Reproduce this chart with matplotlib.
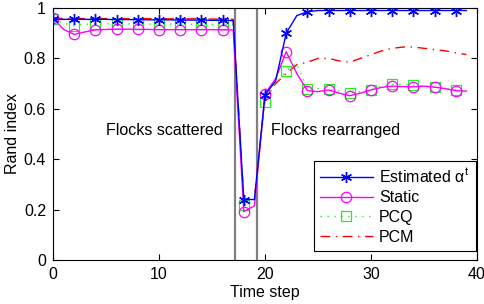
import numpy as np
import matplotlib
matplotlib.use('Agg')
import matplotlib.pyplot as plt

plt.rcParams['font.family'] = ['Liberation Sans', 'DejaVu Sans']
plt.rcParams['mathtext.fontset'] = 'custom'
plt.rcParams['mathtext.rm'] = 'Liberation Sans'
plt.rcParams['mathtext.it'] = 'Liberation Sans'

# time steps 0..39
steps = list(range(40))

estimated = [0.955, 0.955, 0.955, 0.955, 0.955, 0.955, 0.954, 0.954, 0.954, 0.953,
             0.953, 0.953, 0.952, 0.952, 0.952, 0.951, 0.951, 0.950, 0.240, 0.240,
             0.655, 0.710, 0.900, 0.970, 0.985, 0.990, 0.990, 0.990, 0.990, 0.990,
             0.990, 0.990, 0.990, 0.990, 0.990, 0.990, 0.990, 0.990, 0.990, 0.990]

static = [0.960, 0.915, 0.895, 0.905, 0.913, 0.915, 0.916, 0.916, 0.915, 0.915,
          0.914, 0.914, 0.914, 0.914, 0.914, 0.914, 0.913, 0.913, 0.192, 0.215,
          0.660, 0.720, 0.826, 0.740, 0.672, 0.668, 0.675, 0.662, 0.652, 0.662,
          0.675, 0.685, 0.690, 0.688, 0.687, 0.690, 0.686, 0.680, 0.672, 0.670]

pcq = [0.955, 0.940, 0.930, 0.935, 0.937, 0.937, 0.937, 0.937, 0.936, 0.936,
       0.936, 0.936, 0.936, 0.935, 0.935, 0.935, 0.935, 0.935, 0.218, 0.230,
       0.627, 0.700, 0.750, 0.780, 0.677, 0.680, 0.677, 0.670, 0.664, 0.668,
       0.675, 0.690, 0.698, 0.696, 0.694, 0.690, 0.685, 0.680, 0.675, 0.672]

pcm = [0.960, 0.958, 0.958, 0.958, 0.958, 0.958, 0.958, 0.958, 0.958, 0.958,
       0.958, 0.957, 0.957, 0.957, 0.957, 0.956, 0.956, 0.955, 0.240, 0.240,
       0.650, 0.700, 0.740, 0.775, 0.785, 0.800, 0.800, 0.790, 0.785, 0.800,
       0.815, 0.830, 0.840, 0.845, 0.845, 0.840, 0.835, 0.830, 0.822, 0.815]

change_points = [17.2, 19.2]
yticks = [0, 0.2, 0.4, 0.6, 0.8, 1]
ytick_labels = ['0', '0.2', '0.4', '0.6', '0.8', '1']
xticks = [0, 10, 20, 30, 40]

fig = plt.figure(figsize=(4.85, 3.04), dpi=100)
ax = fig.add_axes([0.1093, 0.1447, 0.8742, 0.829])

for cp in change_points:
    ax.axvline(cp, color='#808080', linewidth=1.6, zorder=1)

ax.plot(steps, estimated, color='#0000ff', linestyle='-', linewidth=1.0,
        marker=(6, 2, 0), markevery=2, markersize=8, markeredgewidth=1.0,
        label=r'Estimated $\alpha^t$', zorder=5)
ax.plot(steps, static, color='#ff00ff', linestyle='-', linewidth=1.0,
        marker='o', markevery=2, markersize=7.5, markerfacecolor='none',
        markeredgewidth=0.9, label='Static', zorder=4)
ax.plot(steps, pcq, color='#22ee22', linestyle=(0, (1, 4)), linewidth=1.0,
        marker='s', markevery=2, markersize=6.5, markerfacecolor='none',
        markeredgewidth=0.9, label='PCQ', zorder=3)
ax.plot(steps, pcm, color='#ff0000', linestyle=(0, (7, 4, 1, 4)), linewidth=1.0,
        label='PCM', zorder=2)

ax.text(10.5, 0.515, 'Flocks scattered', ha='center', va='center', fontsize=11.5)
ax.text(26.7, 0.515, 'Flocks rearranged', ha='center', va='center', fontsize=11.5)

ax.set_xlim(0, 40)
ax.set_ylim(0, 1)
ax.set_xticks(xticks)
ax.set_yticks(yticks)
ax.set_yticklabels(ytick_labels)
ax.tick_params(direction='in', top=True, right=True, labelsize=11.5, length=4,
               width=0.8, pad=5)
ax.set_xlabel('Time step', fontsize=11.5, labelpad=2)
ax.set_ylabel('Rand index', fontsize=11.5, labelpad=3)

leg = ax.legend(loc='lower right', bbox_to_anchor=(0.998, 0.035), borderaxespad=0,
                fontsize=11.5, handlelength=3.3, fancybox=False, framealpha=1,
                borderpad=0.4, labelspacing=0.3, handletextpad=0.4)
leg.get_frame().set_edgecolor('black')
leg.get_frame().set_linewidth(0.8)

fig.savefig('out.png', dpi=100)
